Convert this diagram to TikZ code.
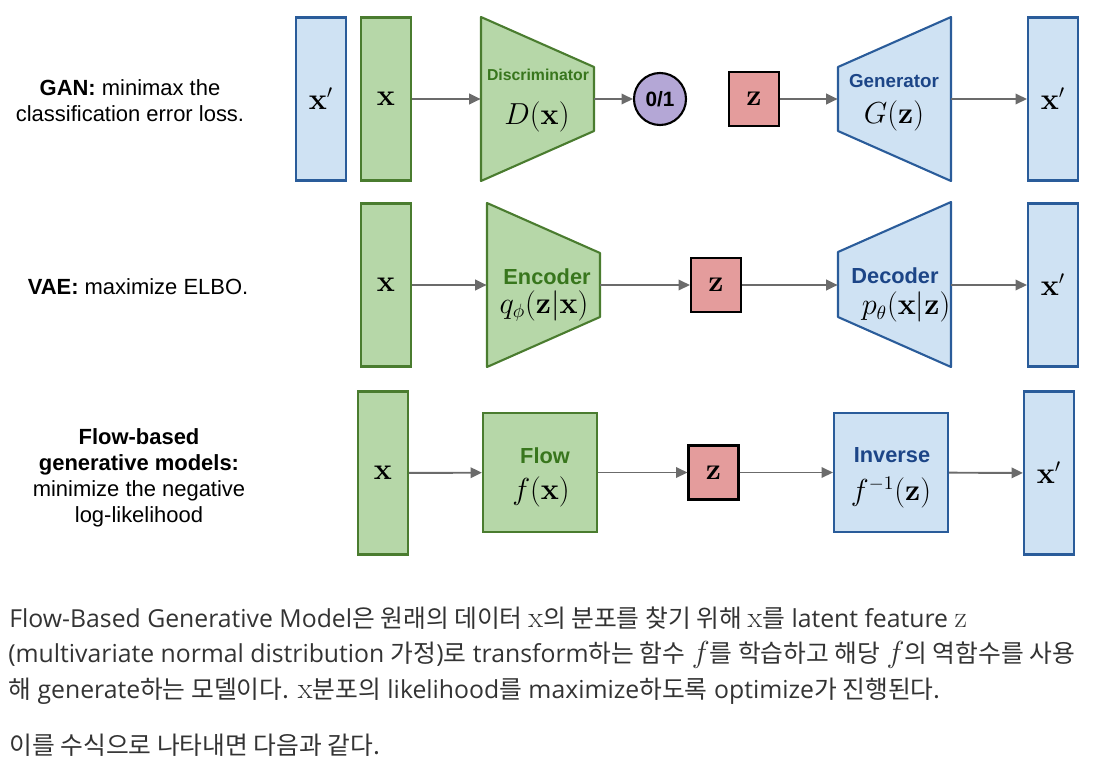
\documentclass[tikz,border=0pt]{standalone}
\usepackage[no-math]{fontspec}
\usepackage{amsmath, amssymb}
\usetikzlibrary{arrows.meta}

\newfontfamily\arialfont{Liberation Sans}
\newfontfamily\opensansfont{Open Sans}
\newfontfamily\krfont{Noto Sans CJK KR}
\newcommand{\hg}[1]{{\krfont #1}}
\newcommand{\mx}[1]{{\fontsize{16.4}{16}\selectfont$#1$}}
\newcommand{\pxu}{0.02cm}
\newcommand{\mathsize}{\fontsize{16.3}{18}\selectfont}

\definecolor{greenfill}{HTML}{B6D7A8}
\definecolor{greenline}{HTML}{4A7C2F}
\definecolor{greentext}{HTML}{38761D}
\definecolor{bluefill}{HTML}{CFE2F3}
\definecolor{blueline}{HTML}{2A5C9A}
\definecolor{bluetext}{HTML}{1C4587}
\definecolor{zfill}{HTML}{E49C9C}
\definecolor{purplefill}{HTML}{B4A7D6}
\definecolor{arrowgray}{HTML}{6B6B6B}
\definecolor{textgray}{HTML}{333333}

\begin{document}
\begin{tikzpicture}[x=0.02cm, y=-0.02cm, >={Triangle[length=6.5pt,width=6pt]},
        green_box_style/.style={draw=greenline,fill=greenfill,line width=1.2pt,inner sep=0pt,minimum width=50*\pxu,minimum height=163*\pxu,font=\mathsize},
        blue_box_style/.style={draw=blueline,fill=bluefill,line width=1.2pt,inner sep=0pt,minimum width=50*\pxu,minimum height=163*\pxu,font=\mathsize},
        z_style/.style={draw=black,fill=zfill,line width=1.2pt,inner sep=0pt,minimum width=50*\pxu,minimum height=54*\pxu,font=\mathsize},
        out_style/.style={circle,draw=black,fill=purplefill,line width=1.2pt,inner sep=0pt,minimum size=52*\pxu,font=\arialfont\bfseries\fontsize{11.8}{13}\selectfont},
        holder_style/.style={inner sep=0pt,minimum width=113*\pxu,minimum height=164*\pxu},
        green_trap_style/.style={draw=greenline,fill=greenfill,line width=1.2pt,line join=round},
        blue_trap_style/.style={draw=blueline,fill=bluefill,line width=1.2pt,line join=round},
        func_green_style/.style={draw=greenline,fill=greenfill,line width=1.2pt,inner sep=0pt,minimum width=114*\pxu,minimum height=119*\pxu},
        func_blue_style/.style={draw=blueline,fill=bluefill,line width=1.2pt,inner sep=0pt,minimum width=114*\pxu,minimum height=119*\pxu},
        title_style/.style={inner sep=0pt,font=\arialfont\bfseries\fontsize{12.4}{14}\selectfont},
        math_style/.style={inner sep=0pt,font=\mathsize},
        label_style/.style={align=center,inner sep=0pt,font=\arialfont\fontsize{12.5}{14.75}\selectfont},
        para_style/.style={anchor=base west,inner sep=0pt,text=textgray,font=\opensansfont\fontsize{14.1}{16}\selectfont},
        edge_style/.style={draw=arrowgray,line width=1.1pt,->}]

        \useasboundingbox (0,0) rectangle (1099,771);

        % GAN
        \node [label_style](gan_label) at (130,101) {\textbf{GAN:} minimax the\\classification error loss.};

        \draw [green_trap_style] (481,17) -- (594,67) -- (594,131) -- (481,181) -- cycle;
        \draw [blue_trap_style] (838,67) -- (951,17) -- (951,181) -- (838,131) -- cycle;

        \node [blue_box_style](gan_fake) at (321,99) {$\mathbf{x}'$};
        \node [green_box_style](gan_real) at (386,99) {$\mathbf{x}$};
        \node [holder_style](disc) at (537.5,99) {};
        \node [title_style,text=greentext,font=\arialfont\bfseries\fontsize{9}{10}\selectfont](disc_title) at (538,75) {Discriminator};
        \node [math_style](disc_fn) at (537,117) {$D(\mathbf{x})$};
        \node [out_style](gan_out) at (660,99) {0/1};
        \node [z_style](gan_z) at (754,99) {$\mathbf{z}$};
        \node [holder_style](gen) at (894.5,99) {};
        \node [title_style,text=bluetext,font=\arialfont\bfseries\fontsize{10.7}{12}\selectfont](gen_title) at (894,81) {Generator};
        \node [math_style](gen_fn) at (894,116) {$G(\mathbf{z})$};
        \node [blue_box_style](gan_gen) at (1053,99) {$\mathbf{x}'$};

        \draw [edge_style] (gan_real) -- (disc);
        \draw [edge_style] (disc) -- (gan_out);
        \draw [edge_style] (gan_z) -- (gen);
        \draw [edge_style] (gen) -- (gan_gen);

        % VAE
        \node [label_style](vae_label) at (138,287) {\textbf{VAE:} maximize ELBO.};

        \draw [green_trap_style] (487,203) -- (600,253) -- (600,317) -- (487,367) -- cycle;
        \draw [blue_trap_style] (838,252) -- (951,202) -- (951,367) -- (838,317) -- cycle;

        \node [green_box_style](vae_x) at (386,285) {$\mathbf{x}$};
        \node [holder_style](enc) at (543.5,285) {};
        \node [title_style,text=greentext](enc_title) at (547,277) {Encoder};
        \node [math_style](enc_fn) at (544,306) {$q_\phi(\mathbf{z}|\mathbf{x})$};
        \node [z_style](vae_z) at (716,285) {$\mathbf{z}$};
        \node [holder_style](dec) at (894.5,285) {};
        \node [title_style,text=bluetext](dec_title) at (895,276) {Decoder};
        \node [math_style](dec_fn) at (906,307) {$p_\theta(\mathbf{x}|\mathbf{z})$};
        \node [blue_box_style](vae_xp) at (1053,285) {$\mathbf{x}'$};

        \draw [edge_style] (vae_x) -- (enc);
        \draw [edge_style] (enc) -- (vae_z);
        \draw [edge_style] (vae_z) -- (dec);
        \draw [edge_style] (dec) -- (vae_xp);

        % Flow
        \node [label_style](flow_label) at (139,477.5) {\textbf{Flow-based}\\\textbf{generative models:}\\minimize the negative\\log-likelihood};

        \node [green_box_style](flow_x) at (383,473) {$\mathbf{x}$};
        \node [func_green_style](flow_f) at (540,472.5) {};
        \node [title_style,text=greentext](flow_title) at (545,456) {Flow};
        \node [math_style](flow_fn) at (541,492) {$f(\mathbf{x})$};
        \node [z_style](flow_z) at (713.5,472.5) {$\mathbf{z}$};
        \node [func_blue_style](flow_inv) at (891,472.5) {};
        \node [title_style,text=bluetext](inv_title) at (892,455) {Inverse};
        \node [math_style](inv_fn) at (891,493) {$f^{-1}(\mathbf{z})$};
        \node [blue_box_style](flow_xp) at (1049,473) {$\mathbf{x}'$};

        \draw [edge_style] (flow_x) -- (flow_f);
        \draw [edge_style] (flow_f) -- (flow_z);
        \draw [edge_style] (flow_z) -- (flow_inv);
        \draw [edge_style] (flow_inv) -- (flow_xp);

        % paragraph
        \node [para_style](para1) at (9,627) {Flow-Based Generative Model\hg{은 원래의 데이터 }\mx{\mathrm{x}}\hg{의 분포를 찾기 위해 }\mx{\mathrm{x}}\hg{를} latent feature \mx{\mathrm{z}}};
        \node [para_style](para2) at (8,662) {(multivariate normal distribution \hg{가정})\hg{로} transform\hg{하는 함수} \mx{f}\hg{를 학습하고 해당} \mx{f}\hg{의 역함수를 사용}};
        \node [para_style](para3) at (8,698) {\hg{해} generate\hg{하는 모델이다.} \mx{\mathrm{x}}\hg{분포의} likelihood\hg{를} maximize\hg{하도록} optimize\hg{가 진행된다.}};
        \node [para_style](para4) at (9,754) {\hg{이를 수식으로 나타내면 다음과 같다.}};

        \end{tikzpicture}
\end{document}
